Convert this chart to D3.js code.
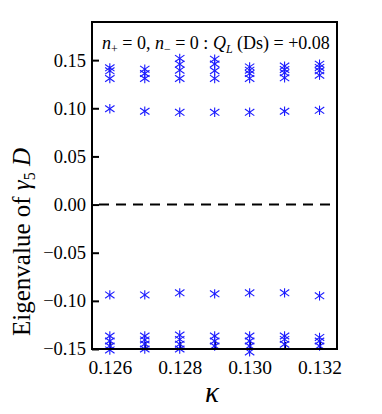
<!DOCTYPE html>
<html>
<head>
<meta charset="utf-8">
<script src="https://cdn.jsdelivr.net/npm/d3@7"></script>
<style>
  body { margin: 0; background: #fff; }
  svg text { font-family: "Liberation Serif", "DejaVu Serif", serif !important; }
</style>
</head>
<body>
<div id="chart"></div>
<script>
"use strict";

// kappa values (x)
var kappas = [0.126, 0.127, 0.128, 0.129, 0.130, 0.131, 0.132];

// eigenvalues of gamma5 D at each kappa
var upperCluster = [
    [0.1420, 0.1389, 0.1309],
    [0.1406, 0.1361, 0.1309],
    [0.1518, 0.1458, 0.1396, 0.1309],
    [0.1510, 0.1460, 0.1390, 0.1310],
    [0.1430, 0.1396, 0.1360, 0.1310],
    [0.1438, 0.1403, 0.1368, 0.1316],
    [0.1458, 0.1424, 0.1389, 0.1344]
];
var upperLow = [0.0995, 0.0969, 0.0958, 0.0958, 0.0958, 0.0969, 0.0979];
var lowerHigh = [-0.0938, -0.0938, -0.0917, -0.0927, -0.0917, -0.0917, -0.0948];
var lowerCluster = [
    [-0.1365, -0.1417, -0.1469, -0.1510],
    [-0.1365, -0.1406, -0.1448, -0.1500],
    [-0.1355, -0.1400, -0.1450, -0.1500],
    [-0.1365, -0.1417, -0.1469],
    [-0.1365, -0.1417, -0.1469, -0.1530],
    [-0.1365, -0.1400, -0.1451],
    [-0.1380, -0.1417, -0.1469]
];

var yTicks = [-0.15, -0.10, -0.05, 0.00, 0.05, 0.10, 0.15];
var xTicks = [0.126, 0.127, 0.128, 0.129, 0.130, 0.131, 0.132];
var xLabels = [0.126, 0.128, 0.130, 0.132];

var width = 382, height = 414;
var margin = { top: 22, left: 92, right: 45, bottom: 65 };
var plotW = width - margin.left - margin.right;
var plotH = height - margin.top - margin.bottom;

var svg = d3.select('#chart').append('svg')
    .attr('width', width)
    .attr('height', height);

var g = svg.append('g')
    .attr('transform', 'translate(' + margin.left + ',' + margin.top + ')');

var xScale = d3.scaleLinear()
    .domain([0.12549, 0.13250])
    .range([0, plotW]);

var yScale = d3.scaleLinear()
    .domain([-0.15, 0.1896])
    .range([plotH, 0]);

// flatten the series into points
var points = [];
kappas.forEach(function (k, i) {
    upperCluster[i].forEach(function (v) { points.push({ k: k, v: v }); });
    points.push({ k: k, v: upperLow[i] });
    points.push({ k: k, v: lowerHigh[i] });
    lowerCluster[i].forEach(function (v) { points.push({ k: k, v: v }); });
});

// zero line
g.append('line')
    .attr('x1', 0).attr('x2', plotW)
    .attr('y1', yScale(0)).attr('y2', yScale(0))
    .attr('stroke', '#000')
    .attr('stroke-width', 2)
    .attr('stroke-dasharray', '10,7')
    .attr('stroke-dashoffset', -7);

// ticks (inward)
var xAxis = d3.axisBottom(xScale).tickValues(xTicks)
    .tickSizeInner(-7).tickSizeOuter(0)
    .tickFormat(function (d) { return xLabels.some(function (l) { return Math.abs(l - d) < 1e-9; }) ? d3.format('.3f')(d) : ''; });
var yAxis = d3.axisLeft(yScale).tickValues(yTicks)
    .tickSizeInner(-7).tickSizeOuter(0)
    .tickFormat(d3.format('.2f'));

var gx = g.append('g')
    .attr('transform', 'translate(0,' + plotH + ')')
    .attr('font-family', null)
    .call(xAxis);
gx.select('.domain').remove();
gx.selectAll('.tick line').attr('stroke-width', 2);
gx.selectAll('.tick text')
    .attr('y', 11)
    .style('font-size', '19.5px')
    .attr('fill', '#000');

var gy = g.append('g').call(yAxis);
gy.select('.domain').remove();
gy.selectAll('.tick line').attr('stroke-width', 2);
gy.selectAll('.tick text')
    .attr('x', -6)
    .style('font-size', '18.5px')
    .attr('fill', '#000');

// asterisk markers
var r = 4.7;
var markers = g.append('g').attr('class', 'markers');
points.forEach(function (p) {
    var cx = xScale(p.k), cy = yScale(p.v);
    var m = markers.append('g')
        .attr('transform', 'translate(' + cx + ',' + cy + ')')
        .attr('stroke', '#1a1aff')
        .attr('stroke-width', 1.1);
    m.append('line').attr('x1', 0).attr('x2', 0).attr('y1', -r).attr('y2', r);
    m.append('line').attr('x1', -r).attr('x2', r).attr('y1', -r * 0.7).attr('y2', r * 0.7);
    m.append('line').attr('x1', -r).attr('x2', r).attr('y1', r * 0.7).attr('y2', -r * 0.7);
});

// frame
g.append('rect')
    .attr('width', plotW)
    .attr('height', plotH)
    .attr('fill', 'none')
    .attr('stroke', '#000')
    .attr('stroke-width', 2);

// annotation
var note = g.append('text')
    .attr('x', 10)
    .attr('y', 27)
    .style('font-size', '18px')
    .attr('fill', '#000');
note.append('tspan').attr('font-style', 'italic').text('n');
note.append('tspan').style('font-size', '12px').attr('dy', 4).text('+');
note.append('tspan').attr('dy', -4).text(' = 0, ');
note.append('tspan').attr('font-style', 'italic').text('n');
note.append('tspan').style('font-size', '12px').attr('dy', 4).text('\u2212');
note.append('tspan').attr('dy', -4).text(' = 0 : ');
note.append('tspan').attr('font-style', 'italic').text('Q');
note.append('tspan').attr('font-style', 'italic').style('font-size', '12px').attr('dy', 4).text('L');
note.append('tspan').attr('dy', -4).text(' (Ds) = +0.08');

// axis titles
svg.append('text')
    .attr('x', 212)
    .attr('y', 402)
    .attr('text-anchor', 'middle')
    .style('font-size', '29px')
    .attr('font-style', 'italic')
    .text('\u03ba');

var yt = svg.append('text')
    .attr('transform', 'translate(30,242) rotate(-90)')
    .attr('text-anchor', 'middle')
    .style('font-size', '25px')
    .attr('fill', '#000');
yt.append('tspan').text('Eigenvalue of ');
yt.append('tspan').attr('font-style', 'italic').text('\u03b3');
yt.append('tspan').style('font-size', '16px').attr('dy', 5).text('5');
yt.append('tspan').attr('dy', -5).attr('font-style', 'italic').text(' D');
</script>
</body>
</html>
